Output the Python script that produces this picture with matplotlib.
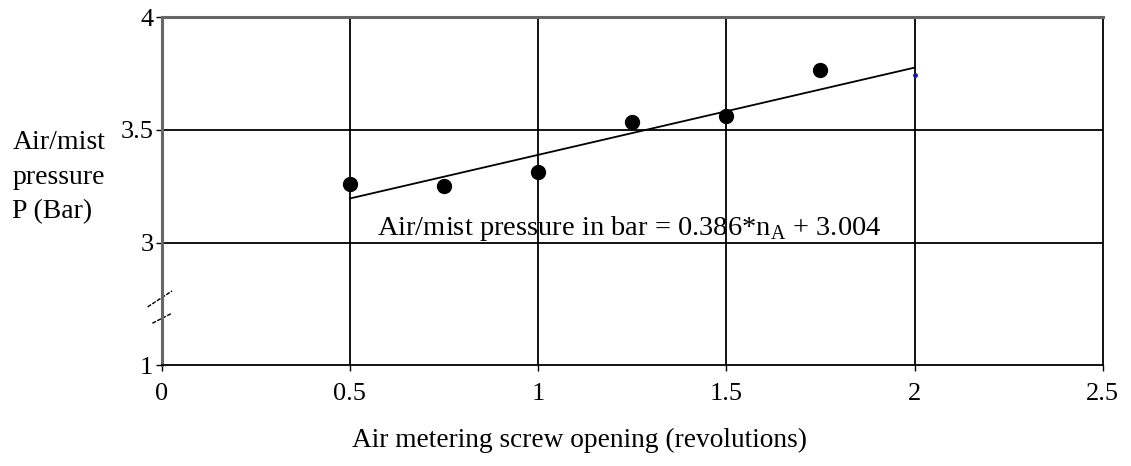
import matplotlib.pyplot as plt
import numpy as np

plt.rcParams['font.family'] = ['Liberation Serif', 'DejaVu Serif']

# measured points
opening = [0.5, 0.75, 1.0, 1.25, 1.5, 1.75]
pressure = [3.26, 3.25, 3.315, 3.535, 3.56, 3.765]
extra_x = [2.0]
extra_y = [3.745]

slope = 0.386
intercept = 3.004
fit_x = [0.5, 2.0]

x_ticks = [0, 0.5, 1, 1.5, 2, 2.5]
x_labels = ['0', '0.5', '1', '1.5', '2', '2.5']
y_ticks = [2.46, 3, 3.5, 4]
y_labels = ['1', '3', '3.5', '4']

fig = plt.figure(figsize=(11.31, 4.66), dpi=100)
ax = fig.add_axes([0.143, 0.2167, 0.832, 0.7468])

ax.set_xlim(0, 2.5)
ax.set_ylim(2.46, 4)
ax.set_xticks(x_ticks)
ax.set_xticklabels(x_labels)
ax.set_yticks(y_ticks)
ax.set_yticklabels(y_labels)
ax.tick_params(labelsize=19, length=4, width=1, colors='black', pad=9)
ax.tick_params(axis='y', pad=2)

for v in x_ticks[1:-1]:
    ax.axvline(v, color='black', lw=1.3, zorder=1)
for v in y_ticks[1:-1]:
    ax.axhline(v, color='black', lw=1.3, zorder=1)

for s in ['left', 'top']:
    ax.spines[s].set_color('#666666')
    ax.spines[s].set_linewidth(2.2)
for s in ['right', 'bottom']:
    ax.spines[s].set_color('black')
    ax.spines[s].set_linewidth(1.3)

# fit line
fx = np.array(fit_x)
ax.plot(fx, slope * fx + intercept, color='black', lw=1.3, zorder=2)

ax.plot(opening, pressure, 'o', color='black', markersize=10, zorder=3)
ax.plot(extra_x, extra_y, 'o', color='#1a1aa0', markersize=2.5, zorder=3)

ax.text(0.571, 3.062, 'Air/mist pressure in bar = 0.386*n$_\\mathregular{A}$ + 3.004',
        fontsize=20.5, va='center', ha='left', zorder=4)

# axis break marks (axes fraction)
ax.plot([-0.015, 0.011], [0.167, 0.213], transform=ax.transAxes,
        color='black', lw=1, ls=(0, (3, 1)), clip_on=False)
ax.plot([-0.01, 0.011], [0.12, 0.149], transform=ax.transAxes,
        color='black', lw=1, ls=(0, (3, 1)), clip_on=False)

fig.text(0.311, 0.055, 'Air metering screw opening (revolutions)', fontsize=19.7,
         ha='left', va='center')
fig.text(0.011, 0.62, 'Air/mist\npressure\nP (Bar)', fontsize=20, ha='left',
         va='center', linespacing=1.5)

fig.savefig('out.png', dpi=100)
